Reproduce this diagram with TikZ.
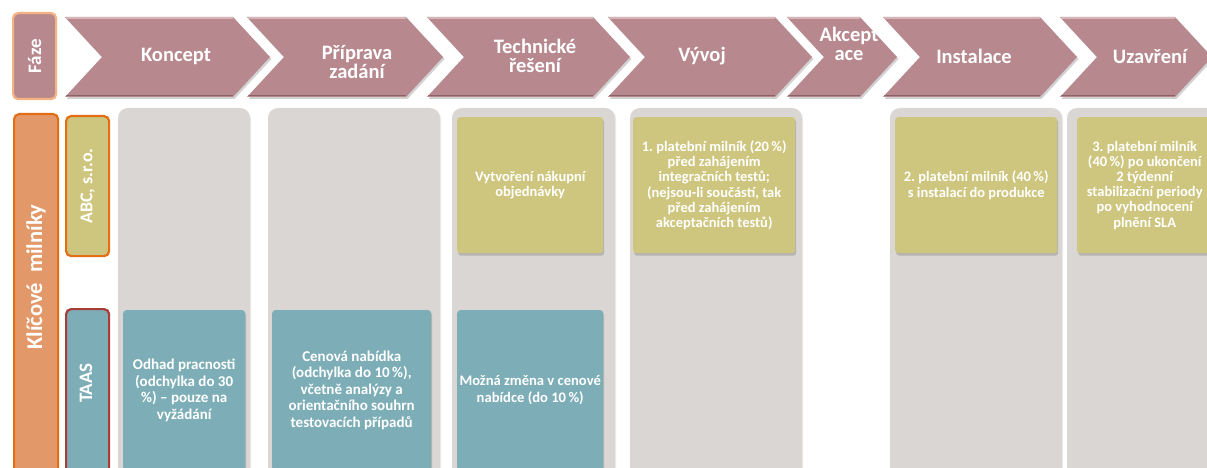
\documentclass[tikz,border=0pt]{standalone}
\usepackage{fontspec}
\setmainfont{Carlito}
\usetikzlibrary{shadows}
\frenchspacing

\definecolor{mauve}{RGB}{183,137,143}
\definecolor{mauvelight}{RGB}{214,180,184}
\definecolor{mauvedark}{RGB}{140,98,105}
\definecolor{fazeedge}{RGB}{245,178,130}
\definecolor{milfill}{RGB}{226,152,104}
\definecolor{orangeedge}{RGB}{228,110,20}
\definecolor{olive}{RGB}{206,198,126}
\definecolor{tealbox}{RGB}{125,174,183}
\definecolor{redge}{RGB}{170,60,55}
\definecolor{colgray}{RGB}{218,214,211}

\tikzset{
  phase/.style={fill=mauve, drop shadow={opacity=0.35, shadow xshift=1.5pt, shadow yshift=-2pt}},
  phasetop/.style={draw=mauvelight, line width=1.2pt, line cap=round},
  phasebottom/.style={draw=mauvedark, line width=1pt, line cap=round},
  hdr/.style={text=white, font=\bfseries\fontsize{20.5}{19}\selectfont, align=center},
  sidebox/.style={rounded corners=5pt, line width=2.2pt, inner sep=0pt, anchor=north west},
  sidetxt/.style={text=white, rotate=90, font=\bfseries\fontsize{18}{20}\selectfont},
  column/.style={fill=colgray, rounded corners=10pt, drop shadow={opacity=0.15, shadow xshift=1pt, shadow yshift=-1pt}},
  milestone/.style={rounded corners=3pt, inner sep=2pt, anchor=north west, align=center, text=white,
    drop shadow={opacity=0.4, shadow xshift=1pt, shadow yshift=-2.5pt}},
  ybox/.style={milestone, fill=olive, minimum height=136pt, font=\bfseries\fontsize{14.5}{15.2}\selectfont},
  tbox/.style={milestone, fill=tealbox, minimum height=160pt, font=\bfseries\fontsize{15}{16.5}\selectfont},
}

% chevron outline: left edge x, tip x
\newcommand\chevronpath[2]{(#1,17) -- (#2-37,17) -- (#2,57) -- (#2-37,97) -- (#1,97) -- (#1+37,57) -- cycle}
% bevel strokes along the top and bottom edges of a chevron
\newcommand\chevronbevel[2]{%
  \draw[phasetop] (#1+1.5,18) -- (#2-37.5,18);
  \draw[phasebottom] (#1+1.5,96) -- (#2-37.5,96);}

\begin{document}
\begin{tikzpicture}[x=1pt, y=-1pt]
\useasboundingbox (0,0) rectangle (1207,468);
\clip (0,0) rectangle (1207,468);
\fill[white] (0,0) rectangle (1207,468);

% ---- phase row ----
\node[sidebox, draw=fazeedge, fill=mauve, minimum width=43pt, minimum height=86pt] (faze) at (12,12) {};
\node[sidetxt, font=\bfseries\fontsize{19}{20}\selectfont] (fazetxt) at (faze.center) {Fáze};

\path[phase] \chevronpath{1060}{1212}; \chevronbevel{1060}{1212}
\path[phase] \chevronpath{883}{1077};  \chevronbevel{883}{1077}
\path[phase] \chevronpath{787}{897};   \chevronbevel{787}{897}
\path[phase] \chevronpath{608}{812};   \chevronbevel{608}{812}
\path[phase] \chevronpath{427}{630};   \chevronbevel{427}{630}
\path[phase] \chevronpath{247}{443};   \chevronbevel{247}{443}
\path[phase] \chevronpath{65}{270};    \chevronbevel{65}{270}

\node[hdr] (p1) at (176,56) {Koncept};
\node[hdr] (p2) at (357,62) {Příprava\\zadání};
\node[hdr] (p3) at (535,56) {Technické\\řešení};
\node[hdr] (p4) at (702,56) {Vývoj};
\node[hdr] (p5) at (849,44) {Akcept\\ace};
\node[hdr] (p6) at (974,56) {Instalace};
\node[hdr] (p7) at (1150,56) {Uzavření};

% ---- row headers ----
\node[sidebox, draw=orangeedge, fill=milfill, minimum width=44pt, minimum height=380pt] (mil) at (13,113) {};
\node[sidetxt, font=\bfseries\fontsize{22.5}{24}\selectfont] (miltxt) at (36,277) {Klíčové\ \ milníky};

\node[sidebox, draw=orangeedge, fill=olive, minimum width=43pt, minimum height=140pt] (abc) at (65,115) {};
\node[sidetxt] (abctxt) at (abc.center) {ABC, s.r.o.};

\node[sidebox, draw=redge, fill=tealbox, minimum width=43pt, minimum height=180pt] (taas) at (65,308) {};
\node[sidetxt, font=\bfseries\fontsize{19}{20}\selectfont] (taastxt) at (86,383) {TAAS};

% ---- phase columns ----
\path[column] (118,108) rectangle (250,490);
\path[column] (268,108) rectangle (440,490);
\path[column] (452,108) rectangle (615,490);
\path[column] (630,108) rectangle (802,490);
\path[column] (890,108) rectangle (1062,490);
\path[column] (1067,108) rectangle (1240,490);

% ---- ABC milestones ----
\node[ybox, minimum width=146pt] (y3) at (457,117) {Vytvoření nákupní\\objednávky};
\node[ybox, minimum width=162pt] (y4) at (633,117)
  {1. platební milník (20\,\%)\\před zahájením\\integračních testů;\\(nejsou-li součástí, tak\\před zahájením\\akceptačních testů)};
\node[ybox, minimum width=162pt] (y5) at (895,117)
  {2. platební milník (40\,\%)\\s instalací do produkce};
\node[ybox, minimum width=135pt] (y6) at (1077,117)
  {3. platební milník\\(40\,\%) po ukončení\\2 týdenní\\stabilizační periody\\po vyhodnocení\\plnění SLA};

% ---- TAAS milestones ----
\node[tbox, minimum width=122pt] (t1) at (123,310)
  {Odhad pracnosti\\(odchylka do 30\\\%) -- pouze na\\vyžádání};
\node[tbox, minimum width=159pt] (t2) at (272,310)
  {Cenová nabídka\\(odchylka do 10\,\%),\\včetně analýzy a\\orientačního souhrn\\testovacích případů};
\node[tbox, minimum width=146pt, inner xsep=0pt, font=\bfseries\fontsize{14.6}{16.5}\selectfont] (t3) at (457,310)
  {Možná změna v cenové\\nabídce (do 10\,\%)};
\end{tikzpicture}
\end{document}
